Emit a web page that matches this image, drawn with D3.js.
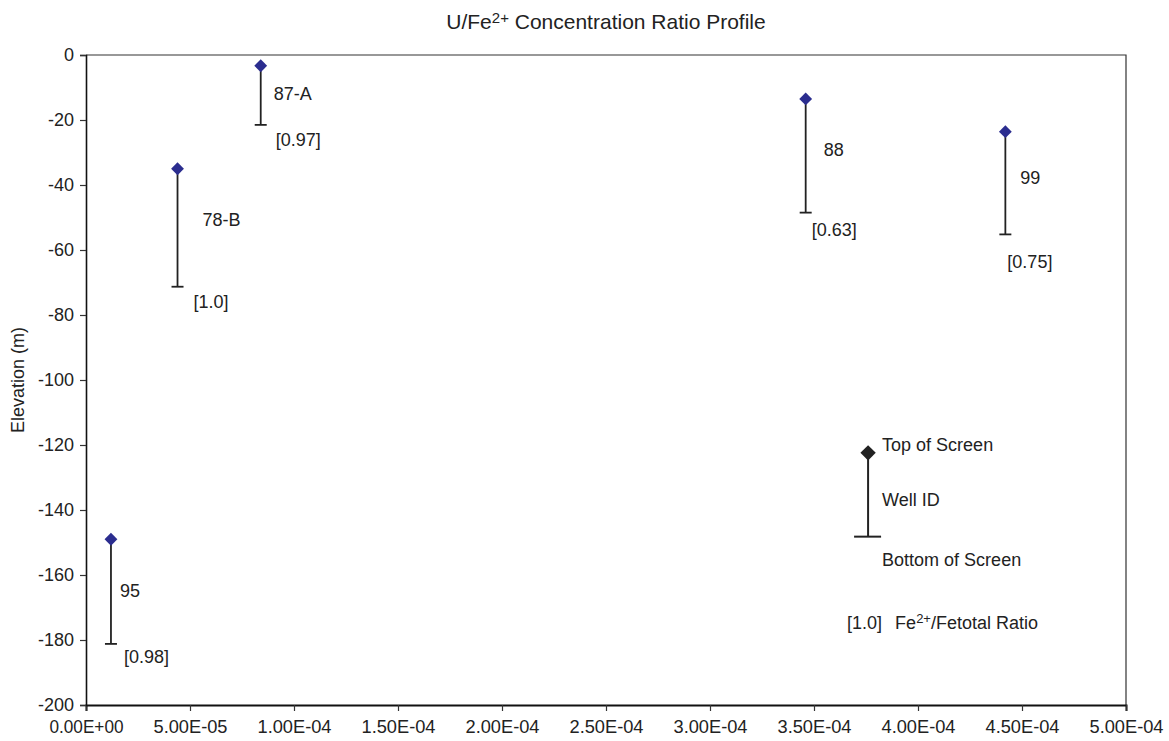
<!DOCTYPE html>
<html>
<head>
<meta charset="utf-8">
<script src="https://cdn.jsdelivr.net/npm/d3@7"></script>
<style>
  html, body { margin: 0; padding: 0; background: #fff; }
  svg { display: block; font-family: "Liberation Sans", Arial, sans-serif; }
</style>
</head>
<body>
<svg id="chart" width="1169" height="741"></svg>
<script>
// Well screens: U/Fe2+ ratio vs. elevation of the top and bottom of each screen
const wellIds = ["95", "78-B", "87-A", "88", "99"];
const uFeRatio = [1.2e-5, 4.4e-5, 8.4e-5, 3.46e-4, 4.42e-4];
const screenTop = [-149, -35, -3.3, -13.5, -23.6];
const screenBottom = [-181.2, -71.3, -21.5, -48.5, -55.2];
const feRatioLabels = ["[0.98]", "[1.0]", "[0.97]", "[0.63]", "[0.75]"];

const xTicks = [0, 5e-5, 1e-4, 1.5e-4, 2e-4, 2.5e-4, 3e-4, 3.5e-4, 4e-4, 4.5e-4, 5e-4];
const yTicks = [0, -20, -40, -60, -80, -100, -120, -140, -160, -180, -200];

// Label nudges (px) so the text sits beside each screen interval
const labelNudge = [
  { idDx: 9,  idDy: -1, rDx: 13, rDy: 13 },
  { idDx: 25, idDy: -8, rDx: 16, rDy: 15 },
  { idDx: 13, idDy: -2, rDx: 15, rDy: 15 },
  { idDx: 18, idDy: -6, rDx: 6,  rDy: 17 },
  { idDx: 15, idDy: -5, rDx: 2,  rDy: 27 }
];

const margin = { left: 86, top: 55, right: 43, bottom: 36 };
const W = 1169, H = 741;
const svg = d3.select("#chart");

const x = d3.scaleLinear().domain([0, 5e-4]).range([margin.left, W - margin.right]);
const y = d3.scaleLinear().domain([-200, 0]).range([H - margin.bottom, margin.top]);

// Scientific notation in the "0.00E+00" style
function sci(v) {
  if (v === 0) return "0.00E+00";
  const [m, e] = v.toExponential(2).split("e");
  const n = parseInt(e, 10);
  const s = n < 0 ? "-" : "+";
  return m + "E" + s + String(Math.abs(n)).padStart(2, "0");
}

// Plot frame (top and right)
svg.append("path")
  .attr("d", `M${x(0)},${y(0)}H${x(5e-4)}V${y(-200)}`)
  .attr("fill", "none").attr("stroke", "#333").attr("stroke-width", 1.2);

// X axis
const xAxis = svg.append("g")
  .attr("transform", `translate(0,${y(-200)})`)
  .call(d3.axisBottom(x).tickValues(xTicks).tickFormat(sci).tickSizeOuter(0).tickSize(6).tickPadding(9));
xAxis.select(".domain").attr("stroke", "#111").attr("stroke-width", 2);
xAxis.selectAll(".tick line").attr("stroke", "#333").attr("stroke-width", 1.2);
xAxis.selectAll(".tick text")
  .attr("font-size", 18).attr("fill", "#222")
  .attr("textLength", 74).attr("lengthAdjust", "spacingAndGlyphs")
  .attr("font-family", "Liberation Sans, Arial, sans-serif");

// Y axis
const yAxis = svg.append("g")
  .attr("transform", `translate(${x(0)},0)`)
  .call(d3.axisLeft(y).tickValues(yTicks).tickFormat(d3.format("d")).tickSizeOuter(0).tickSize(6).tickPadding(6));
yAxis.select(".domain").attr("stroke", "#111").attr("stroke-width", 1.6);
yAxis.selectAll(".tick line").attr("stroke", "#333").attr("stroke-width", 1.2);
yAxis.selectAll(".tick text")
  .attr("font-size", 18).attr("fill", "#222")
  .attr("font-family", "Liberation Sans, Arial, sans-serif")
  .text(d => d === 0 ? "0" : String(d));

// Title
const title = svg.append("text")
  .attr("x", (x(0) + x(5e-4)) / 2).attr("y", 29)
  .attr("text-anchor", "middle").attr("font-size", 21).attr("fill", "#222");
title.append("tspan").text("U/Fe");
title.append("tspan").attr("font-size", 15).attr("dy", -6).text("2+");
title.append("tspan").attr("dy", 6).text(" Concentration Ratio Profile");

// Y axis title
svg.append("text")
  .attr("transform", `translate(24,${(y(0) + y(-200)) / 2}) rotate(-90)`)
  .attr("text-anchor", "middle").attr("font-size", 18).attr("fill", "#222")
  .text("Elevation (m)");

// Screen intervals
const wells = wellIds.map((id, i) => ({
  id, x: uFeRatio[i], top: screenTop[i], bottom: screenBottom[i],
  ratio: feRatioLabels[i], nudge: labelNudge[i]
}));

const g = svg.append("g");
const diamond = d3.symbol().type(d3.symbolDiamond2);

wells.forEach(w => {
  const cx = x(w.x);
  g.append("line")
    .attr("x1", cx).attr("x2", cx).attr("y1", y(w.top)).attr("y2", y(w.bottom))
    .attr("stroke", "#222").attr("stroke-width", 1.8);
  g.append("line")
    .attr("x1", cx - 6).attr("x2", cx + 6).attr("y1", y(w.bottom)).attr("y2", y(w.bottom))
    .attr("stroke", "#222").attr("stroke-width", 1.8);
  g.append("path")
    .attr("d", diamond.size(105)())
    .attr("transform", `translate(${cx},${y(w.top)})`)
    .attr("fill", "#2b2d8f");
  const mid = (y(w.top) + y(w.bottom)) / 2;
  g.append("text")
    .attr("x", cx + w.nudge.idDx).attr("y", mid + w.nudge.idDy).attr("dy", "0.35em")
    .attr("font-size", 18).attr("fill", "#222").text(w.id);
  g.append("text")
    .attr("x", cx + w.nudge.rDx).attr("y", y(w.bottom) + w.nudge.rDy).attr("dy", "0.35em")
    .attr("font-size", 18).attr("fill", "#222").text(w.ratio);
});

// Key
const key = { x: 3.76e-4, top: -122.4, bottom: -148.2 };
const kx = x(key.x);
const kg = svg.append("g");
kg.append("line")
  .attr("x1", kx).attr("x2", kx).attr("y1", y(key.top)).attr("y2", y(key.bottom))
  .attr("stroke", "#222").attr("stroke-width", 2);
kg.append("line")
  .attr("x1", kx - 14).attr("x2", kx + 13).attr("y1", y(key.bottom)).attr("y2", y(key.bottom))
  .attr("stroke", "#222").attr("stroke-width", 2);
kg.append("path")
  .attr("d", diamond.size(150)())
  .attr("transform", `translate(${kx},${y(key.top)})`)
  .attr("fill", "#222");
const keyText = [
  { t: "Top of Screen", dy: -8 },
  { t: "Well ID", dy: 47 },
  { t: "Bottom of Screen", dy: 107 }
];
keyText.forEach(k => {
  kg.append("text")
    .attr("x", kx + 14).attr("y", y(key.top) + k.dy).attr("dy", "0.35em")
    .attr("font-size", 18).attr("fill", "#222").text(k.t);
});
const ratioKey = kg.append("text")
  .attr("x", kx - 21).attr("y", y(key.top) + 170).attr("dy", "0.35em")
  .attr("font-size", 18).attr("fill", "#222");
ratioKey.append("tspan").text("[1.0]");
ratioKey.append("tspan").attr("dx", 13).text("Fe");
ratioKey.append("tspan").attr("font-size", 13).attr("dy", -6).text("2+");
ratioKey.append("tspan").attr("dy", 6).text("/Fetotal Ratio");
</script>
</body>
</html>
